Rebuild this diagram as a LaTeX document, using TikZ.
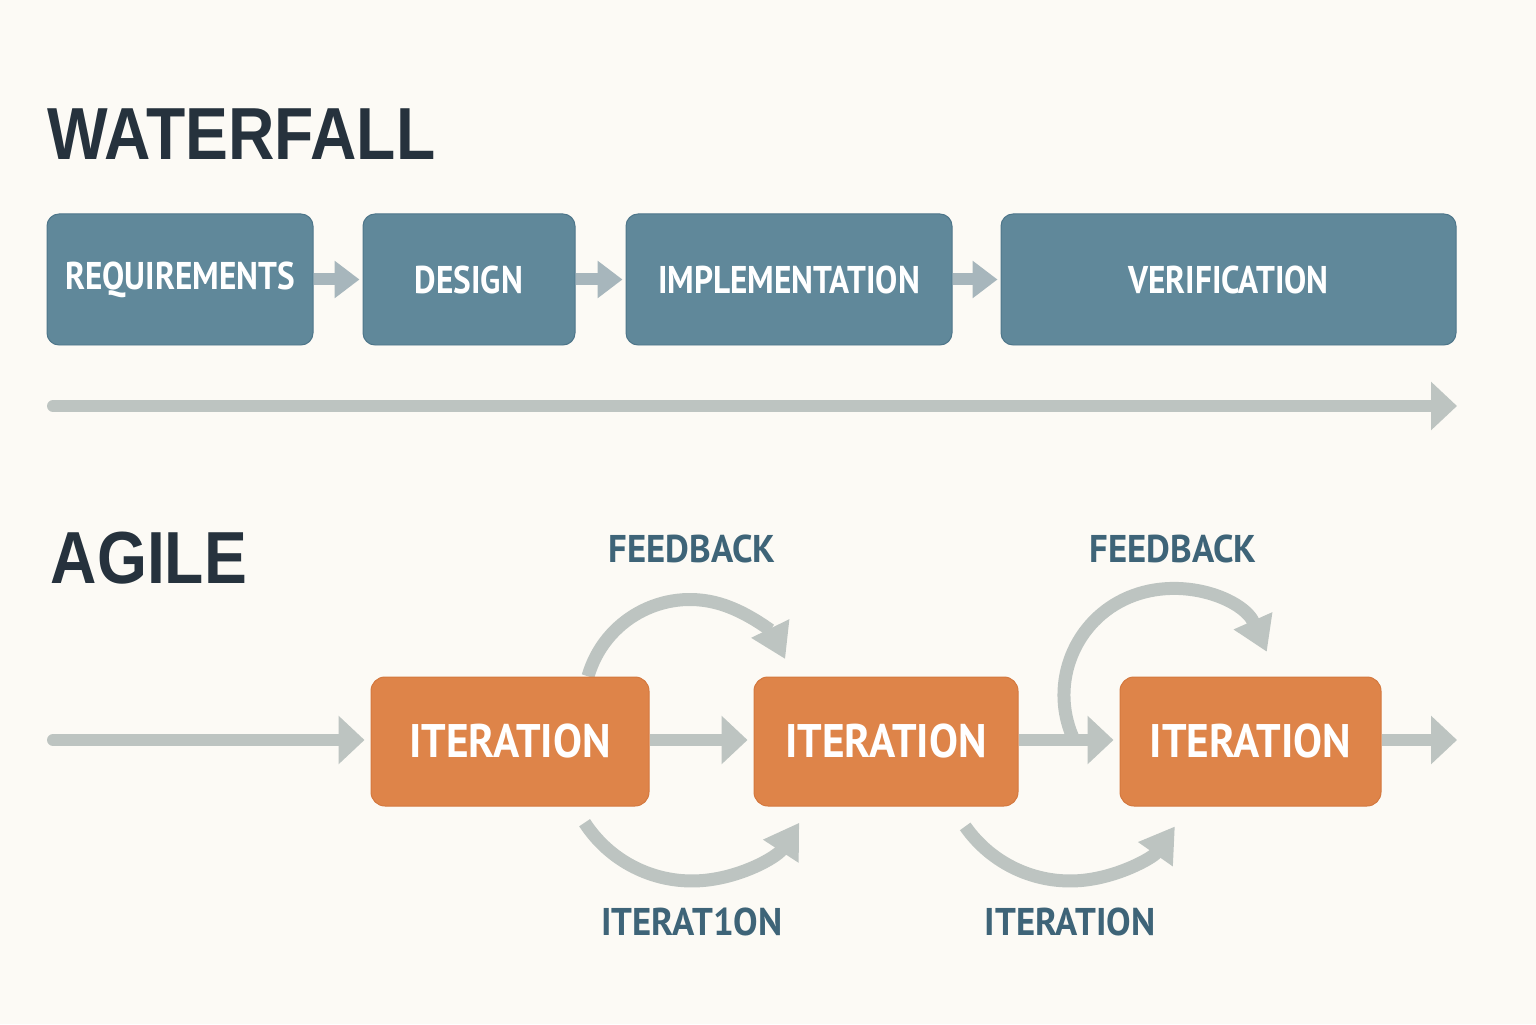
\documentclass[tikz,border=0pt]{standalone}
\usepackage{fontspec}
\usetikzlibrary{arrows.meta}
\newfontfamily\headfont{Liberation Sans}[FakeStretch=0.87]
\newfontfamily\labelfont{PT Sans}[FakeStretch=0.86]
\newfontfamily\iterfont{PT Sans}[FakeStretch=0.92]
\newfontfamily\notefont{PT Sans}[FakeStretch=0.95]
\definecolor{paper}{RGB}{252,250,245}
\definecolor{inkdark}{RGB}{38,50,61}
\definecolor{stagefill}{RGB}{96,136,154}
\definecolor{stageline}{RGB}{78,118,138}
\definecolor{iterfill}{RGB}{222,132,73}
\definecolor{iterline}{RGB}{212,120,62}
\definecolor{notecol}{RGB}{62,100,120}
\definecolor{steparrow}{RGB}{167,182,188}
\definecolor{flowgrey}{RGB}{189,196,193}
\tikzset{
  stagebox/.style={draw=stageline, fill=stagefill, line width=0.010000cm, rounded corners=0.120000cm,
    minimum height=1.310000cm, inner sep=0pt, text=white, font=\labelfont\bfseries\fontsize{11}{13}\selectfont},
  iterbox/.style={draw=iterline, fill=iterfill, line width=0.010000cm, rounded corners=0.140000cm,
    minimum height=1.290000cm, inner sep=0pt, text=white, font=\iterfont\bfseries\fontsize{13.4}{15}\selectfont},
  headline/.style={anchor=base west, inner sep=0pt, text=inkdark, font=\headfont\bfseries\fontsize{21}{24}\selectfont},
  notelabel/.style={inner sep=0pt, text=notecol, font=\notefont\bfseries\fontsize{11}{13}\selectfont},
  stepflow/.style={draw=steparrow, line width=0.120000cm, -{Triangle[length=0.250000cm, width=0.360000cm]}, shorten >=0.030000cm},
  mainflow/.style={draw=flowgrey, line width=0.120000cm, line cap=round, -{Triangle[length=0.260000cm, width=0.470000cm]}},
  loopflow/.style={draw=flowgrey, line width=0.130000cm, -{Triangle[length=0.340000cm, width=0.400000cm]}}
}
\begin{document}
\begin{tikzpicture}
                    \useasboundingbox (0.000000,0.000000) rectangle (15.360000,10.240000);%
                    \fill [paper] (0.000000,0.000000) rectangle (15.360000,10.240000);%

                    % Marking titles
                    \node [headline] (wfTitle) at (0.470000,8.640000) {WATERFALL};%
                    \node [headline] (agTitle) at (0.500000,4.410000) {AGILE};%

                    % Marking waterfall stages
                    \node [stagebox, minimum width=2.660000cm] (req) at (1.800000,7.445000) {REQUIREMENTS};%
                    \node [stagebox, minimum width=2.120000cm] (des) at (4.690000,7.445000) {DESIGN};%
                    \node [stagebox, minimum width=3.260000cm] (imp) at (7.890000,7.445000) {IMPLEMENTATION};%
                    \node [stagebox, minimum width=4.550000cm] (ver) at (12.285000,7.445000) {VERIFICATION};%

                    % Drawing stage arrows
                    \draw [stepflow] (req.east) -- (des.west);%
                    \draw [stepflow] (des.east) -- (imp.west);%
                    \draw [stepflow] (imp.east) -- (ver.west);%

                    % Drawing time line
                    \coordinate (tlStart) at (0.530000,6.180000);%
                    \coordinate (tlEnd) at (14.570000,6.180000);%
                    \draw [mainflow] (tlStart) -- (tlEnd);%

                    % Drawing feedback loops
                    \coordinate (fbOne) at (5.880000,3.477000);%
                    \coordinate (fbTwo) at (10.724000,2.876000);%
                    \draw [loopflow] (fbOne) arc [start angle=164, end angle=26, radius=1.060000];%
                    \draw [loopflow] (fbTwo) arc [start angle=203, end angle=24, radius=1.060000];%

                    % Drawing iteration loops
                    \coordinate (itOne) at (5.846000,2.013000);%
                    \coordinate (itTwo) at (9.652000,1.976000);%
                    \draw [loopflow] (itOne) arc [start angle=213, end angle=327, radius=1.280000];%
                    \draw [loopflow] (itTwo) arc [start angle=215, end angle=325, radius=1.280000];%

                    % Marking iterations
                    \node [iterbox, minimum width=2.780000cm] (iterA) at (5.100000,2.825000) {ITERATION};%
                    \node [iterbox, minimum width=2.640000cm] (iterB) at (8.860000,2.825000) {ITERATION};%
                    \node [iterbox, minimum width=2.610000cm] (iterC) at (12.505000,2.825000) {ITERATION};%

                    % Drawing agile line
                    \coordinate (agStart) at (0.530000,2.840000);%
                    \coordinate (agEnd) at (14.570000,2.840000);%
                    \draw [mainflow, shorten >=0.060000cm] (agStart) -- (iterA.west |- agStart);%
                    \draw [mainflow, line cap=butt, shorten >=0.060000cm] (iterA.east |- agStart) -- (iterB.west |- agStart);%
                    \draw [mainflow, line cap=butt, shorten >=0.060000cm] (iterB.east |- agStart) -- (iterC.west |- agStart);%
                    \draw [mainflow, line cap=butt] (iterC.east |- agStart) -- (agEnd);%

                    % Marking loop labels
                    \node [notelabel] (fbLabA) at (6.920000,4.750000) {FEEDBACK};%
                    \node [notelabel] (fbLabB) at (11.730000,4.750000) {FEEDBACK};%
                    \node [notelabel] (itLabA) at (6.920000,1.020000) {ITERAT1ON};%
                    \node [notelabel] (itLabB) at (10.700000,1.020000) {ITERATION};%
\end{tikzpicture}
\end{document}
